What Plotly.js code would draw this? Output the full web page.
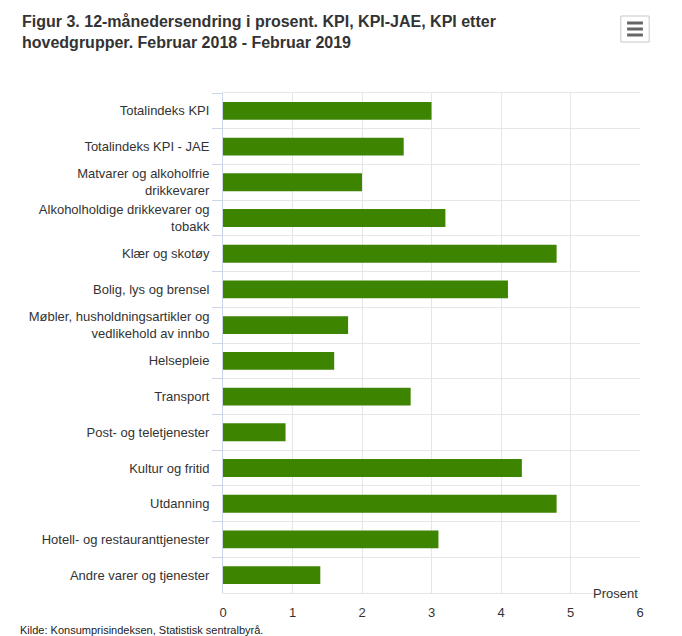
<!DOCTYPE html>
<html>
<head>
<meta charset="utf-8">
<script src="https://cdn.plot.ly/plotly-3.0.1.min.js"></script>
<style>
  body { margin: 0; background: #fff; }
  #chart { width: 682px; height: 636px; }
</style>
</head>
<body>
<div id="chart"></div>
<script>
const categories = [
  'Totalindeks KPI',
  'Totalindeks KPI - JAE',
  'Matvarer og alkoholfrie<br>drikkevarer',
  'Alkoholholdige drikkevarer og<br>tobakk',
  'Klær og skotøy',
  'Bolig, lys og brensel',
  'Møbler, husholdningsartikler og<br>vedlikehold av innbo',
  'Helsepleie',
  'Transport',
  'Post- og teletjenester',
  'Kultur og fritid',
  'Utdanning',
  'Hotell- og restauranttjenester',
  'Andre varer og tjenester'
];
const change = [3.0, 2.6, 2.0, 3.2, 4.8, 4.1, 1.8, 1.6, 2.7, 0.9, 4.3, 4.8, 3.1, 1.4];
const xTicks = [0, 1, 2, 3, 4, 5, 6];

const chart = document.getElementById('chart');
const font = 'Liberation Sans, Arial, sans-serif';
const narrow = 'Liberation Sans Narrow, Arial Narrow, Liberation Sans, sans-serif';

const data = [{
  type: 'bar',
  orientation: 'h',
  x: change,
  y: categories,
  marker: { color: '#3d8400' },
  hoverinfo: 'x+y'
}];

const layout = {
  width: 682,
  height: 636,
  margin: { l: 223, r: 42, t: 93, b: 43 },
  paper_bgcolor: '#fff',
  plot_bgcolor: '#fff',
  font: { family: font, size: 13, color: '#333' },
  showlegend: false,
  bargap: 0.5,
  title: {
    text: 'Figur 3. 12-månedersendring i prosent. KPI, KPI-JAE, KPI etter<br>hovedgrupper. Februar 2018 - Februar 2019',
    font: { family: narrow, size: 16, color: '#333', weight: 'bold' },
    xref: 'container', x: 22 / 682, xanchor: 'left',
    yref: 'container', y: 1 - 27 / 636, yanchor: 'top'
  },
  xaxis: {
    range: [0, 6],
    tickvals: xTicks,
    showgrid: true,
    gridcolor: '#e6e6e6',
    zeroline: false,
    showline: true,
    mirror: true,
    linecolor: '#e6e6e6',
    ticks: '',
    ticklabelstandoff: 7,
    tickfont: { size: 13, color: '#333' },
    fixedrange: true
  },
  yaxis: {
    type: 'category',
    autorange: 'reversed',
    tickson: 'boundaries',
    ticks: 'outside',
    ticklen: 10,
    tickcolor: '#ccd6eb',
    showline: true,
    linecolor: '#ccd6eb',
    showgrid: true,
    gridcolor: '#e6e6e6',
    ticklabelstandoff: 10,
    tickfont: { size: 13, color: '#333' },
    fixedrange: true
  },
  annotations: [
    {
      text: 'Prosent', xref: 'paper', yref: 'paper', x: 1, y: 0,
      xanchor: 'right', yanchor: 'middle', showarrow: false,
      font: { size: 13, color: '#333' }
    },
    {
      text: 'Kilde: Konsumprisindeksen, Statistisk sentralbyrå.',
      xref: 'paper', yref: 'paper', x: (18 - 223) / 417, y: (593 - 630) / 500,
      xanchor: 'left', yanchor: 'middle', showarrow: false,
      font: { family: font, size: 11, color: '#222' }
    }
  ],
  shapes: [
    { type: 'rect', xref: 'paper', yref: 'paper', x0: 0.954, x1: 1.022, y0: 1.102, y1: 1.154,
      line: { color: '#c8c8c8', width: 1 }, fillcolor: '#fff' },
    { type: 'line', xref: 'paper', yref: 'paper', x0: 0.969, x1: 1.007, y0: 1.140, y1: 1.140,
      line: { color: '#666', width: 3 } },
    { type: 'line', xref: 'paper', yref: 'paper', x0: 0.969, x1: 1.007, y0: 1.128, y1: 1.128,
      line: { color: '#666', width: 3 } },
    { type: 'line', xref: 'paper', yref: 'paper', x0: 0.969, x1: 1.007, y0: 1.116, y1: 1.116,
      line: { color: '#666', width: 3 } }
  ]
};

Plotly.newPlot(chart, data, layout, { displayModeBar: false, responsive: false });
</script>
</body>
</html>
